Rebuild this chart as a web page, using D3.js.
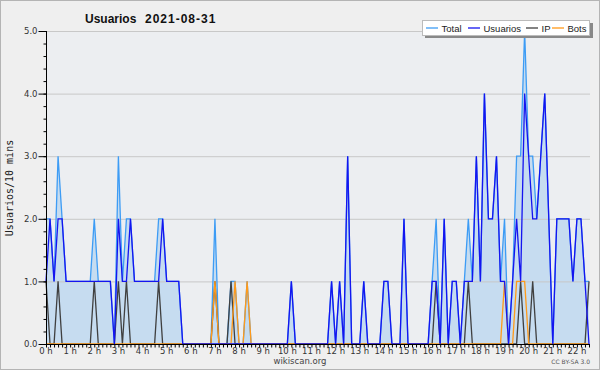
<!DOCTYPE html>
<html>
<head>
<meta charset="utf-8">
<script src="https://cdn.jsdelivr.net/npm/d3@7"></script>
<style>
  body { margin: 0; background: #efefef; }
  svg { display: block; }
</style>
</head>
<body>
<div id="chart"></div>
<script>
// 10-minute slots from 00:00 to 22:30
var usuarios = [1,2,1,2,2,1,1,1,1,1,1,1,1,1,1,1,1,0,2,1,1,2,1,1,1,1,1,1,1,2,
  1,1,1,1,0,0,0,0,0,0,0,0,0,0,0,0,0,0,0,0,0,0,0,0,0,0,0,0,0,0,
  0,1,0,0,0,0,0,0,0,0,0,1,0,1,0,3,0,0,0,1,0,0,0,0,1,1,0,0,0,2,
  0,0,0,0,0,0,1,1,0,2,0,1,1,0,1,1,1,3,1,4,2,2,3,1,1,0,1,2,1,4,
  3,2,2,3,4,2,0,2,2,2,2,1,2,2,1,0];
var ip = [1,0,0,1,0,0,0,0,0,0,0,0,1,0,0,0,0,0,1,0,1,0,0,0,0,0,0,0,1,0,
  0,0,0,0,0,0,0,0,0,0,0,0,1,0,0,0,1,0,0,0,0,0,0,0,0,0,0,0,0,0,
  0,0,0,0,0,0,0,0,0,0,0,0,0,0,0,0,0,0,0,0,0,0,0,0,0,0,0,0,0,0,
  0,0,0,0,0,0,0,1,0,0,0,0,0,0,0,1,0,0,0,0,0,0,0,0,0,0,0,0,1,0,
  0,1,0,0,0,0,0,0,0,0,0,0,0,0,0,1];
var bots = [0,0,0,0,0,0,0,0,0,0,0,0,0,0,0,0,0,0,0,0,0,0,0,0,0,0,0,0,0,0,
  0,0,0,0,0,0,0,0,0,0,0,0,1,0,0,0,0,1,0,0,1,0,0,0,0,0,0,0,0,0,
  0,0,0,0,0,0,0,0,0,0,0,0,0,0,0,0,0,0,0,0,0,0,0,0,0,0,0,0,0,0,
  0,0,0,0,0,0,0,0,0,0,0,0,0,0,0,0,0,0,0,0,0,0,0,0,1,0,0,1,1,1,
  0,0,0,0,0,0,0,0,0,0,0,0,0,0,0,0];
var total = [2,2,1,3,2,1,1,1,1,1,1,1,2,1,1,1,1,0,3,1,2,2,1,1,1,1,1,1,2,2,
  1,1,1,1,0,0,0,0,0,0,0,0,2,0,0,0,1,1,0,0,1,0,0,0,0,0,0,0,0,0,
  0,1,0,0,0,0,0,0,0,0,0,1,0,1,0,3,0,0,0,1,0,0,0,0,1,1,0,0,0,2,
  0,0,0,0,0,0,1,2,0,2,0,1,1,0,1,2,1,3,1,4,2,2,3,1,2,0,1,3,3,5,
  3,3,2,3,4,2,0,2,2,2,2,1,2,2,1,1];
var hourLabels = ["0 h","1 h","2 h","3 h","4 h","5 h","6 h","7 h","8 h","9 h","10 h","11 h",
  "12 h","13 h","14 h","15 h","16 h","17 h","18 h","19 h","20 h","21 h","22 h"];
var yTicks = [0, 1, 2, 3, 4, 5];
var seriesNames = ["Total", "Usuarios", "IP", "Bots"];
var seriesColors = ["#3d9cf5", "#1414f0", "#404040", "#ff9a1a"];

var W = 600, H = 370;
var svg = d3.select("#chart").append("svg").attr("width", W).attr("height", H);

svg.append("rect").attr("x", 0.5).attr("y", 0.5).attr("width", W - 1).attr("height", H - 1)
  .attr("fill", "#efefef").attr("stroke", "#b4b4b4");

var x = d3.scaleLinear().domain([0, usuarios.length - 1]).range([46, 589]);
var y = d3.scaleLinear().domain([0, 5]).range([344, 31]);

// plot background
svg.append("rect").attr("x", 46).attr("y", 31).attr("width", 544).attr("height", 313)
  .attr("fill", "#eceef1");

var area = d3.area().x(function (d, i) { return x(i); }).y0(y(0)).y1(function (d) { return y(d); });
svg.append("path").datum(total).attr("d", area).attr("fill", "#c6dcf0");

// grid
svg.append("g").selectAll("line").data(yTicks.slice(1)).enter().append("line")
  .attr("x1", 46).attr("x2", 590)
  .attr("y1", function (d) { return y(d) + 0.5; }).attr("y2", function (d) { return y(d) + 0.5; })
  .attr("stroke", "#c8c8c8").attr("stroke-width", 1);

var line = d3.line().x(function (d, i) { return x(i); }).y(function (d) { return y(d); });
[[total, 0], [ip, 2], [bots, 3], [usuarios, 1]].forEach(function (s) {
  svg.append("path").datum(s[0]).attr("d", line)
    .attr("fill", "none").attr("stroke", seriesColors[s[1]]).attr("stroke-width", 1.3);
});

// y axis
var yAxis = d3.axisLeft(y).tickValues(d3.range(0, 5.01, 0.2)).tickSize(3).tickFormat("");
var gy = svg.append("g").attr("transform", "translate(46.5,0)").call(yAxis);
gy.select(".domain").remove();
svg.append("line").attr("x1", 46.5).attr("x2", 46.5).attr("y1", 31).attr("y2", 344.5).attr("stroke", "#000");
var yMajor = d3.axisLeft(y).tickValues(yTicks).tickSize(8).tickFormat(d3.format(".1f"));
var gy2 = svg.append("g").attr("transform", "translate(46.5,0)").call(yMajor);
gy2.select(".domain").remove();
gy2.selectAll("text").attr("font-family", "DejaVu Sans, sans-serif").attr("font-size", 8.5)
  .attr("fill", "#333").attr("x", -9);
gy.selectAll("line").attr("stroke", "#000");
gy2.selectAll("line").attr("stroke", "#000");

// x axis
var xAxis = d3.axisBottom(x).tickValues(d3.range(0, usuarios.length)).tickSize(3).tickFormat("");
var gx = svg.append("g").attr("transform", "translate(0,344.5)").call(xAxis);
gx.select(".domain").remove();
gx.selectAll("line").attr("stroke", "#000");
svg.append("line").attr("x1", 46).attr("x2", 590).attr("y1", 344.5).attr("y2", 344.5).attr("stroke", "#000");
svg.append("g").selectAll("text").data(hourLabels).enter().append("text")
  .attr("x", function (d, i) { return x(i * 6); }).attr("y", 354)
  .attr("text-anchor", "middle").attr("font-family", "DejaVu Sans, sans-serif").attr("font-size", 8.5)
  .attr("fill", "#333").text(function (d) { return d; });

// y label
svg.append("text").attr("transform", "translate(13,188) rotate(-90)")
  .attr("text-anchor", "middle").attr("font-family", "DejaVu Sans Mono, monospace")
  .attr("font-size", 10).attr("fill", "#222").text("Usuarios/10 mins");

// title
svg.append("text").attr("x", 85).attr("y", 23).attr("font-family", "Liberation Sans, sans-serif")
  .attr("font-weight", "bold").attr("font-size", 12).attr("fill", "#111").text("Usuarios");
svg.append("text").attr("x", 145).attr("y", 23).attr("font-family", "Liberation Sans, sans-serif")
  .attr("font-weight", "bold").attr("font-size", 12).attr("letter-spacing", 1).attr("fill", "#111")
  .text("2021-08-31");

// legend
var lg = svg.append("g");
lg.append("rect").attr("x", 425).attr("y", 23).attr("width", 168).attr("height", 15).attr("fill", "#888");
lg.append("rect").attr("x", 422.5).attr("y", 20.5).attr("width", 167).attr("height", 15)
  .attr("fill", "#fff").attr("stroke", "#bbb");
var legX = [426, 468, 526, 552];
seriesNames.forEach(function (n, i) {
  lg.append("line").attr("x1", legX[i]).attr("x2", legX[i] + 12).attr("y1", 28).attr("y2", 28)
    .attr("stroke", seriesColors[i]).attr("stroke-width", 1.3);
  lg.append("text").attr("x", legX[i] + 15.5).attr("y", 32).attr("font-family", "Liberation Sans, sans-serif")
    .attr("font-size", 9.5).attr("fill", "#222").text(n);
});

// footer
svg.append("text").attr("x", 300).attr("y", 364).attr("text-anchor", "middle")
  .attr("font-family", "DejaVu Sans, sans-serif").attr("font-size", 8.5).attr("fill", "#444").text("wikiscan.org");
svg.append("text").attr("x", 590).attr("y", 364).attr("text-anchor", "end")
  .attr("font-family", "DejaVu Sans, sans-serif").attr("font-size", 6).attr("fill", "#555").text("CC BY-SA 3.0");
</script>
</body>
</html>
